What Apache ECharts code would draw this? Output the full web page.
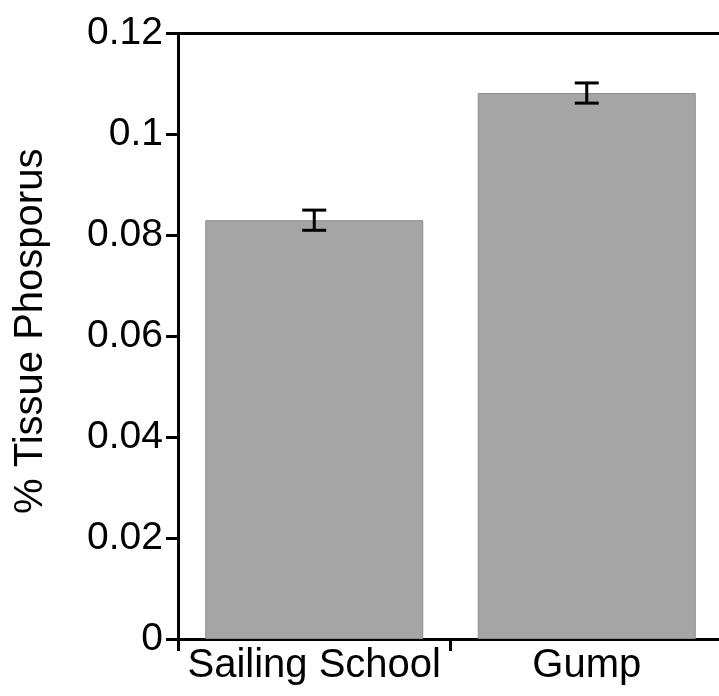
<!DOCTYPE html>
<html>
<head>
<meta charset="utf-8">
<script src="https://cdn.jsdelivr.net/npm/echarts@6/dist/echarts.min.js"></script>
<style>
html,body{margin:0;padding:0;background:#fff;overflow:hidden;}
#chart{width:730px;height:696px;}
</style>
</head>
<body>
<div id="chart"></div>
<script>
var categories = ['Sailing School', 'Gump'];
var means = [0.0830, 0.1082];
var errors = [0.0020, 0.0020];
var yMin = 0, yMax = 0.12, yInterval = 0.02;
var yAxisTitle = '% Tissue Phosporus';

var FONT = 'Liberation Sans, Arial, Helvetica, sans-serif';
var chart = echarts.init(document.getElementById('chart'), null, {renderer: 'canvas'});

var errData = categories.map(function (c, i) { return [i, means[i] - errors[i], means[i] + errors[i]]; });

chart.setOption({
  animation: false,
  backgroundColor: '#ffffff',
  grid: {left: 178, top: 33.5, width: 545, height: 605.5, containLabel: false},
  xAxis: [{
    type: 'category',
    data: categories,
    position: 'bottom',
    boundaryGap: true,
    axisLine: {show: true, lineStyle: {color: '#000', width: 3}},
    axisTick: {show: true, interval: 0, alignWithLabel: false, length: 12, lineStyle: {color: '#000', width: 3}},
    axisLabel: {interval: 0, color: '#000', fontSize: 40, fontFamily: FONT, margin: 7},
    splitLine: {show: false}
  }, {
    type: 'category',
    data: categories,
    position: 'top',
    axisLine: {show: true, lineStyle: {color: '#000', width: 3}},
    axisTick: {show: false},
    axisLabel: {show: false},
    splitLine: {show: false}
  }],
  yAxis: {
    type: 'value',
    min: yMin, max: yMax, interval: yInterval,
    name: yAxisTitle,
    nameLocation: 'middle',
    nameGap: 127,
    nameTextStyle: {color: '#000', fontSize: 40, fontFamily: FONT, padding: [0, 0, 0, 10]},
    axisLine: {show: true, onZero: false, lineStyle: {color: '#000', width: 3}},
    axisTick: {show: true, length: 12, lineStyle: {color: '#000', width: 3}},
    axisLabel: {color: '#000', fontSize: 39, fontFamily: FONT, margin: 15},
    splitLine: {show: false}
  },
  series: [{
    type: 'bar',
    data: means,
    barWidth: '80%',
    itemStyle: {color: '#a5a5a5', borderColor: '#8c8c8c', borderWidth: 1},
    z: 2
  }, {
    type: 'custom',
    data: errData,
    z: 5,
    renderItem: function (params, api) {
      var i = api.value(0);
      var lo = api.coord([i, api.value(1)]);
      var hi = api.coord([i, api.value(2)]);
      var hw = 12;
      var st = {stroke: '#000', lineWidth: 3};
      return {
        type: 'group',
        children: [
          {type: 'line', shape: {x1: lo[0], y1: lo[1], x2: hi[0], y2: hi[1]}, style: st},
          {type: 'line', shape: {x1: hi[0] - hw, y1: hi[1], x2: hi[0] + hw, y2: hi[1]}, style: st},
          {type: 'line', shape: {x1: lo[0] - hw, y1: lo[1], x2: lo[0] + hw, y2: lo[1]}, style: st}
        ]
      };
    }
  }]
});
</script>
</body>
</html>
